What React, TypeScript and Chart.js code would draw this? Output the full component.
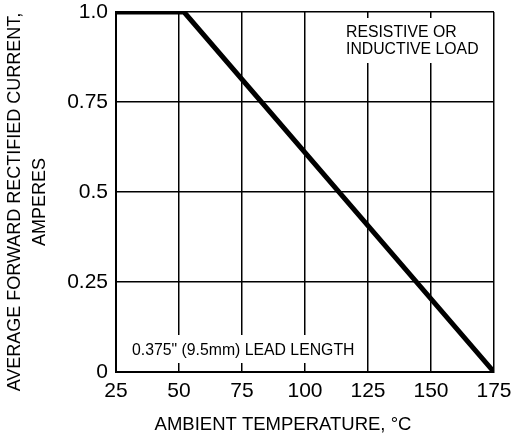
import React, { useEffect, useRef } from "react";
import { Chart, registerables } from "chart.js";

Chart.register(...registerables);

const temperatures = [25, 52, 175];
const current = [1.0, 1.0, 0];
const xTicks = [25, 50, 75, 100, 125, 150, 175];
const yTicks = [0, 0.25, 0.5, 0.75, 1.0];
const yTickLabels = ["0", "0.25", "0.5", "0.75", "1.0"];
const xTitle = "AMBIENT TEMPERATURE, °C";
const yTitle = ["AVERAGE FORWARD RECTIFIED CURRENT,", "AMPERES"];
const loadNote = ["RESISTIVE OR", "INDUCTIVE LOAD"];
const leadNote = '0.375" (9.5mm) LEAD LENGTH';

const FONT = "'Liberation Sans', Arial, Helvetica, sans-serif";

const notesPlugin = {
  id: "notes",
  beforeDatasetsDraw(chart: any) {
    const { ctx, chartArea: a } = chart;
    ctx.save();
    ctx.fillStyle = "#fff";
    // white boxes behind notes
    ctx.fillRect(a.right - 153, a.top + 6, 145, 45);
    ctx.fillRect(a.left + 9, a.bottom - 37, 242, 28);
    ctx.fillStyle = "#000";
    ctx.font = `15.8px ${FONT}`;
    ctx.textBaseline = "middle";
    ctx.textAlign = "left";
    ctx.fillText(loadNote[0], a.right - 148, a.top + 21);
    ctx.fillText(loadNote[1], a.right - 148, a.top + 38);
    ctx.fillText(leadNote, a.left + 16, a.bottom - 21);
    ctx.restore();
  },
  afterDraw(chart: any) {
    const { ctx, chartArea: a, height } = chart;
    ctx.save();
    ctx.fillStyle = "#000";
    ctx.font = `18.5px ${FONT}`;
    ctx.textBaseline = "middle";
    ctx.textAlign = "center";
    ctx.fillText(xTitle, (a.left + a.right) / 2 - 22, height - 15);
    ctx.font = `18px ${FONT}`;
    const cy = (a.top + a.bottom) / 2 + 10;
    ctx.translate(0, cy);
    ctx.rotate(-Math.PI / 2);
    ctx.fillText(yTitle[0], 0, 15);
    ctx.fillText(yTitle[1], 0, 40);
    ctx.restore();
  },
};

export default function App() {
  const ref = useRef<HTMLCanvasElement | null>(null);
  useEffect(() => {
    if (!ref.current) return;
    const chart = new Chart(ref.current, {
      type: "scatter",
      data: {
        datasets: [
          {
            data: temperatures.map((t, i) => ({ x: t, y: current[i] })),
            showLine: true,
            borderColor: "#000",
            borderWidth: 5,
            pointRadius: 0,
            borderJoinStyle: "miter",
            borderCapStyle: "butt",
          },
        ],
      },
      options: {
        animation: false,
        responsive: true,
        maintainAspectRatio: false,
        layout: { padding: { top: 12, right: 20, left: 0, bottom: 0 } },
        plugins: { legend: { display: false }, tooltip: { enabled: false } },
        scales: {
          x: {
            type: "linear",
            min: 25,
            max: 175,
            afterBuildTicks: (s: any) => {
              s.ticks = xTicks.map((v) => ({ value: v }));
            },
            afterFit: (s: any) => {
              s.height = 68;
              s.paddingLeft = 0;
              s.paddingRight = 0;
            },
            ticks: {
              color: "#000",
              font: { family: FONT, size: 21 },
              padding: 7,
              maxRotation: 0,
            },
            grid: { color: "#000", lineWidth: 1.5, drawTicks: false },
            border: { color: "#000", width: 2 },
          },
          y: {
            type: "linear",
            min: 0,
            max: 1,
            afterBuildTicks: (s: any) => {
              s.ticks = yTicks.map((v) => ({ value: v }));
            },
            afterFit: (s: any) => {
              s.width = 116;
              s.paddingTop = 0;
              s.paddingBottom = 0;
            },
            ticks: {
              color: "#000",
              font: { family: FONT, size: 21, lineHeight: 0.5 },
              padding: 8,
              callback: (v: any) => {
                const i = yTicks.indexOf(Number(v));
                return i >= 0 ? yTickLabels[i] : "";
              },
            },
            grid: { color: "#000", lineWidth: 1.5, drawTicks: false },
            border: { color: "#000", width: 2 },
          },
        },
      },
      plugins: [notesPlugin],
    });
    return () => chart.destroy();
  }, []);
  return (
    <div
      style={{
        position: "fixed",
        left: 0,
        top: 0,
        width: 514,
        height: 440,
      }}
    >
      <canvas ref={ref} />
    </div>
  );
}
